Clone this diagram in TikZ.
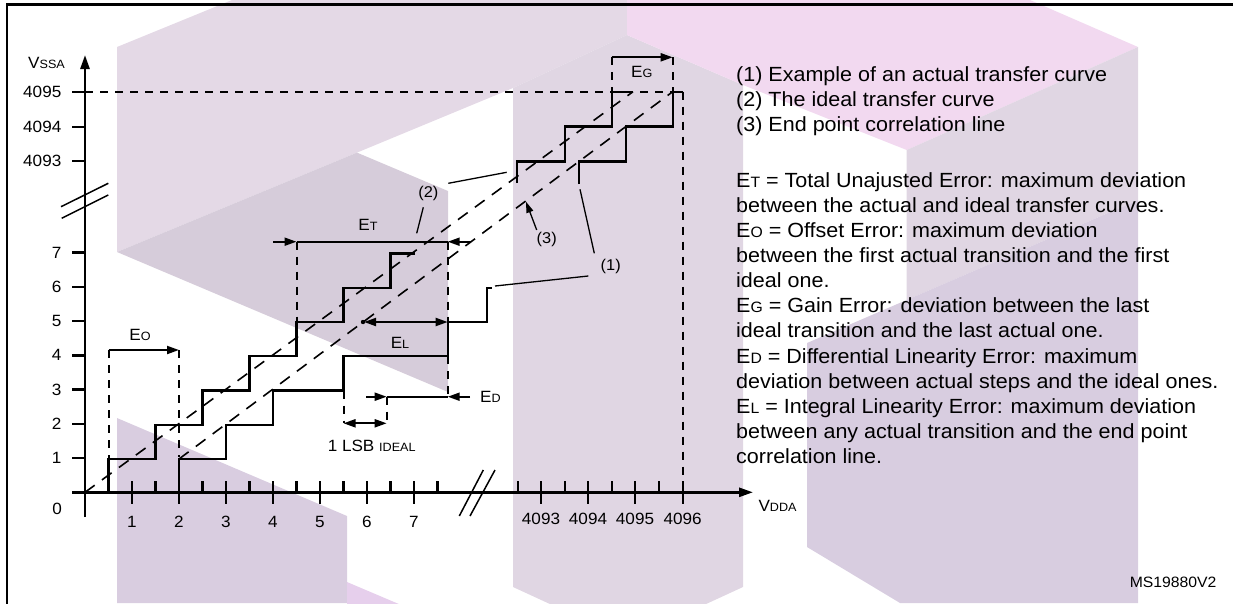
\documentclass[tikz,border=0pt]{standalone}
\usepackage{fontspec}
\setmainfont{Liberation Sans}[FakeStretch=1.05]
\usetikzlibrary{arrows.meta}
\newcommand{\lbl}{\fontsize{16.3}{18}\selectfont}
\newcommand{\lsub}[1]{{\fontsize{12}{14}\selectfont #1}}
\newcommand{\txt}{\fontsize{20.5}{25}\selectfont}
\newcommand{\tsub}[1]{{\fontsize{15}{18}\selectfont #1}}
\definecolor{wmA}{HTML}{E4D9E6}
\definecolor{wmB}{HTML}{D6CCDA}
\definecolor{wmBand}{HTML}{E0D6E3}
\definecolor{wmPink}{HTML}{F2D9F0}
\definecolor{wmPink2}{HTML}{E6CFEC}
\definecolor{wmC}{HTML}{D9CDE0}
\definecolor{wmD}{HTML}{D8CDE0}
\definecolor{wmR}{HTML}{E0D6E3}
\begin{document}
\begin{tikzpicture}[x=1pt,y=-1pt,
  ax/.style={line width=2.6pt},
  stair/.style={line width=2.3pt},
  dsh/.style={line width=2pt, dash pattern=on 8pt off 7pt},
  diag/.style={line width=1.6pt, dash pattern=on 12pt off 9pt},
  lead/.style={line width=1.3pt},
  meas/.style={line width=2pt},
  tk/.style={line width=2.4pt},
  arr/.style={-{Triangle[length=12pt,width=8pt]}},
  darr/.style={{Triangle[length=12pt,width=8pt]}-{Triangle[length=12pt,width=8pt]}},
  lab/.style={inner sep=0pt, font=\lbl},
  txl/.style={inner sep=0pt, anchor=base west, font=\txt}]
\useasboundingbox (0,0) rectangle (1233,603);
\clip (0,0) rectangle (1233,603);
% ---------- watermark ----------
\fill[wmA] (117,47) -- (232,0) -- (627,0) -- (627,35) -- (513,88) -- (117,252) -- cycle;
\fill[wmB] (117,252) -- (357,152.6) -- (448,191) -- (448,392) -- cycle;
\fill[wmBand] (513,88) -- (627,35) -- (743,85) -- (743,587) -- (628,640) -- (513,587) -- cycle;
\fill[wmPink] (627,0) -- (1030,0) -- (1138,47) -- (906.7,150) -- (743,85) -- (627,35) -- cycle;
\fill[wmR] (906.7,150) -- (1138,47) -- (1138,200) -- (906.7,300) -- cycle;
\fill[wmD] (807,343) -- (1138,200) -- (1138,603) -- (900,603) -- (807,547) -- cycle;
\fill[wmC] (117,418) -- (347,516) -- (347,603) -- (117,603) -- cycle;
\fill[wmPink2] (347,582) -- (420,613) -- (347,613) -- cycle;
% ---------- frame ----------
\draw[line width=2.2pt] (7,700) -- (7,4.5) -- (1300,4.5);
% ---------- axes ----------
\coordinate (O) at (85,492.3);
\coordinate (ytop) at (85,55);
\coordinate (xend) at (753,492.3);
\draw[ax,-{Triangle[length=14pt,width=9pt]}] (85,517) -- (ytop);
\draw[ax,-{Triangle[length=14pt,width=9pt]}] (72,492.3) -- (xend);
% y ticks
\foreach \k/\t in {1/1,2/2,3/3,4/4,5/5,6/6,7/7}{
  \draw[tk] (72,{492.3-34.25*\k}) -- (85,{492.3-34.25*\k});
  \node[lab,anchor=east] (yl\k) at (61.5,{492.3-34.25*\k}) {\t};
}
\foreach \yy/\t in {91.7/4095,126.7/4094,161.2/4093}{
  \draw[tk] (72,\yy) -- (85,\yy);
  \node[lab,anchor=east] at (61.5,\yy) {\t};
}
\node[lab,anchor=east] (y0) at (62,509.3) {0};
\node[lab] (vssa) at (46.5,63) {V\lsub{SSA}};
% y break
\draw[line width=1.5pt] (61,206.7) -- (108.3,183.3);
\draw[line width=1.5pt] (61.7,218.3) -- (108.3,195);
% x ticks
\foreach \u in {1,...,7}{
  \draw[tk] ({85+47*\u},481) -- ({85+47*\u},504);
  \node[lab] (xl\u) at ({85+47*\u},521.5) {\u};
}
\foreach \u in {0.5,1.5,...,7.5}{
  \draw[tk] ({85+47*\u},481) -- ({85+47*\u},492.3);
}
\foreach \xx/\t in {541/4093,588/4094,635/4095,682.7/4096}{
  \draw[tk] (\xx,481) -- (\xx,504);
  \node[lab] at (\xx,518.5) {\t};
}
\foreach \xx in {517.7,565,612,659}{
  \draw[tk] (\xx,481) -- (\xx,492.3);
}
\node[lab] (vdda) at (777.5,506) {V\lsub{DDA}};
% x break
\draw[line width=1.5pt] (459.3,516) -- (483.3,470);
\draw[line width=1.5pt] (470,516) -- (495,470);
% ---------- dashed reference lines ----------
\draw[dsh] (85,91.7) -- (682.7,91.7);
\draw[dsh] (682.7,91.7) -- (682.7,492.3);
\draw[diag] (85,492.3) -- (633,91.7);
\draw[diag] (179,459) -- (672.7,91.7);
% ---------- staircases ----------
\draw[stair] (108.5,492.3) -- (108.5,458.8) -- (155.5,458.8) -- (155.5,424.8) -- (202.5,424.8) -- (202.5,390.5)
  -- (249.5,390.5) -- (249.5,356.3) -- (296.5,356.3) -- (296.5,322) -- (343.5,322) -- (343.5,287.8)
  -- (390.5,287.8) -- (390.5,253.5) -- (415,253.5);
\draw[stair] (179,492.3) -- (179,458.8) -- (226,458.8) -- (226,424.8) -- (273,424.8) -- (273,390.5)
  -- (343.5,390.5) -- (343.5,356.3) -- (447.7,356.3) -- (447.7,322) -- (486.7,322) -- (486.7,287.8) -- (492,287.8);
\draw[stair] (517.3,183) -- (517.3,161.5) -- (565,161.5) -- (565,126.5) -- (611.7,126.5) -- (611.7,91.7) -- (633,91.7);
\draw[stair] (579,184) -- (579,161.5) -- (626,161.5) -- (626,126.5) -- (672.7,126.5) -- (672.7,91.7) -- (682.7,91.7);
% ---------- E_O ----------
\draw[dsh] (108.5,350) -- (108.5,458);
\draw[dsh] (179,350) -- (179,457);
\draw[meas,arr] (108.5,350) -- (179,350);
\node[lab] (eo) at (140,335) {E\lsub{O}};
% ---------- E_T ----------
\draw[dsh] (296.5,241.7) -- (296.5,322);
\draw[dsh] (447.7,241.7) -- (447.7,322);
\draw[dsh] (447.7,356.3) -- (447.7,396.7);
\draw[meas,arr] (273,241.7) -- (296.5,241.7);
\draw[meas] (296.5,241.7) -- (447.7,241.7);
\draw[meas,arr] (471,241.7) -- (447.7,241.7);
\node[lab] (et) at (368,225) {E\lsub{T}};
% ---------- E_L ----------
\fill (363,322) circle (2.2pt);
\draw[meas,darr] (364,322) -- (447.7,322);
\node[lab] (el) at (400,343) {E\lsub{L}};
% ---------- E_D ----------
\draw[meas,arr] (366,396.7) -- (386.7,396.7);
\draw[meas] (386.7,396.7) -- (447.7,396.7);
\draw[meas,arr] (470,396.7) -- (447.7,396.7);
\node[lab,anchor=west] (ed) at (480,396.7) {E\lsub{D}};
\draw[dsh] (386.7,396.7) -- (386.7,423.3);
\draw[dsh] (343.5,390.5) -- (343.5,423.3);
\draw[meas,darr] (343.5,423.3) -- (386.7,423.3);
\node[lab] (lsb) at (371.7,445.7) {1 LSB \lsub{IDEAL}};
% ---------- E_G ----------
\draw[dsh] (611.7,57.3) -- (611.7,91.7);
\draw[dsh] (672.7,57.3) -- (672.7,91.7);
\draw[meas,arr] (611.7,57.3) -- (672.7,57.3);
\node[lab] (eg) at (641.7,71.7) {E\lsub{G}};
% ---------- callouts ----------
\node[inner sep=0pt,font=\fontsize{15.6}{18}\selectfont] (c2) at (428.3,193.3) {(2)};
\node[inner sep=0pt,font=\fontsize{15.6}{18}\selectfont] (c1) at (610.7,266.7) {(1)};
\node[inner sep=0pt,font=\fontsize{15.6}{18}\selectfont] (c3) at (546.7,239.3) {(3)};
\coordinate (c2a) at (416.7,233.3);
\coordinate (c2b) at (506.7,172.3);
\coordinate (c1a) at (580,189.3);
\coordinate (c1b) at (495,286);
\coordinate (c3a) at (526,201.7);
\draw[lead] (423.3,207.3) -- (c2a);
\draw[lead] (448.3,183.3) -- (c2b);
\draw[lead] (594.3,253.3) -- (c1a);
\draw[lead] (588.3,276) -- (c1b);
\draw[lead,-{Triangle[length=11pt,width=7pt]}] (536.7,230) -- (c3a);
% ---------- legend text ----------
\node[txl] (t1) at (736,81.7) {(1) Example of an actual transfer curve};
\node[txl] (t2) at (736,106.8) {(2) The ideal transfer curve};
\node[txl] (t3) at (736,131.9) {(3) End point correlation line};
\node[txl] (d1) at (736,187.3) {E\tsub{T} = Total Unajusted Error: maximum deviation};
\node[txl] (d2) at (736,212.4) {between the actual and ideal transfer curves.};
\node[txl] (d3) at (736,237.5) {E\tsub{O} = Offset Error: maximum deviation};
\node[txl] (d4) at (736,262.6) {between the first actual transition and the first};
\node[txl] (d5) at (736,287.7) {ideal one.};
\node[txl] (d6) at (736,312.8) {E\tsub{G} = Gain Error: deviation between the last};
\node[txl] (d7) at (736,337.9) {ideal transition and the last actual one.};
\node[txl] (d8) at (736,363.0) {E\tsub{D} = Differential Linearity Error: maximum};
\node[txl] (d9) at (736,388.1) {deviation between actual steps and the ideal ones.};
\node[txl] (d10) at (736,413.2) {E\tsub{L} = Integral Linearity Error: maximum deviation};
\node[txl] (d11) at (736,438.3) {between any actual transition and the end point};
\node[txl] (d12) at (736,463.4) {correlation line.};
\node[inner sep=0pt,anchor=base east,font=\fontsize{15}{18}\selectfont] (ms) at (1216.7,587) {MS19880V2};
\end{tikzpicture}
\end{document}
